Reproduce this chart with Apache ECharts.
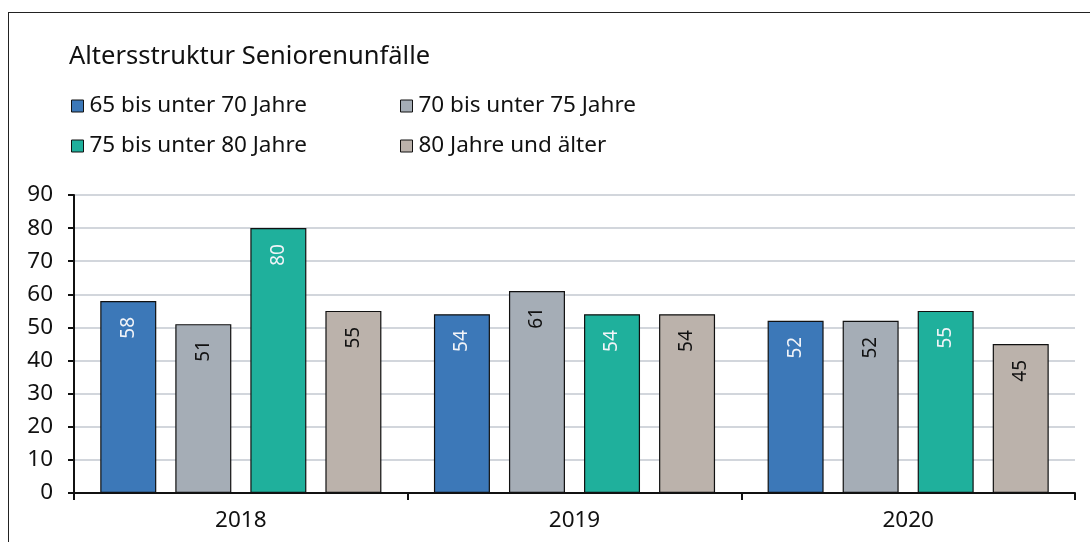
<!DOCTYPE html>
<html>
<head>
<meta charset="utf-8">
<script src="https://cdn.jsdelivr.net/npm/echarts@6/dist/echarts.min.js"></script>
<style>
  html, body { margin: 0; padding: 0; background: #fff; }
  #frame { position: absolute; left: 8px; top: 12px; width: 1100px; height: 560px;
           border-left: 1.5px solid #222; border-top: 1.5px solid #222; }
  #my-echart { position: absolute; left: 0; top: 0; width: 1090px; height: 542px; }
</style>
</head>
<body>
<div id="frame"></div>
<div id="my-echart"></div>
<script>
// Daten
const years = ['2018', '2019', '2020'];
const seriesNames = ['65 bis unter 70 Jahre', '70 bis unter 75 Jahre', '75 bis unter 80 Jahre', '80 Jahre und älter'];
const age65 = [58, 54, 52];
const age70 = [51, 61, 52];
const age75 = [80, 54, 55];
const age80 = [55, 54, 45];
const yTicks = [0, 10, 20, 30, 40, 50, 60, 70, 80, 90];

const colors = ['#3c78b8', '#a5adb6', '#1fb09c', '#bbb2ab'];
const labelColors = ['#f2f4f8', '#111', '#f2f4f8', '#111'];
const font = '"Noto Sans", Lato, sans-serif';

const makeSeries = function (name, data, i) {
    return {
        name: name,
        type: 'bar',
        barWidth: 56,
        barGap: '34%',
        data: data,
        itemStyle: { color: colors[i], borderColor: '#111', borderWidth: 1.2 },
        label: {
            show: true,
            position: 'insideTop',
            distance: 16,
            rotate: 90,
            align: 'right',
            verticalAlign: 'middle',
            color: labelColors[i],
            fontFamily: font,
            fontSize: 19
        }
    };
};

const legendBase = {
    orient: 'vertical',
    itemWidth: 12,
    itemHeight: 12,
    itemGap: 16,
    icon: 'rect',
    textStyle: { fontFamily: font, fontSize: 22.5, lineHeight: 24, color: '#111', padding: [0, 0, 0, 1] },
    itemStyle: { borderColor: '#111', borderWidth: 1 }
};

const option = {
    animation: false,
    title: {
        text: 'Altersstruktur Seniorenunfälle',
        left: 64,
        top: 39,
        textStyle: { fontFamily: font, fontSize: 25.5, fontWeight: 'normal', color: '#111' }
    },
    legend: [
        Object.assign({}, legendBase, { left: 66, top: 89, data: [seriesNames[0], seriesNames[2]] }),
        Object.assign({}, legendBase, { left: 395, top: 89, data: [seriesNames[1], seriesNames[3]] })
    ],
    grid: { left: 74, right: 15, top: 195, bottom: 49 },
    xAxis: {
        type: 'category',
        data: years,
        axisLine: { lineStyle: { color: '#111', width: 2 } },
        axisTick: { show: true, length: 7, lineStyle: { color: '#111', width: 2 } },
        axisLabel: { fontFamily: font, fontSize: 22.5, color: '#111', margin: 16 }
    },
    yAxis: {
        type: 'value',
        min: yTicks[0],
        max: yTicks[yTicks.length - 1],
        interval: 10,
        axisLine: { show: true, lineStyle: { color: '#111', width: 2 } },
        axisTick: { show: true, length: 6, lineStyle: { color: '#111', width: 2 } },
        axisLabel: { fontFamily: font, fontSize: 22.5, color: '#111', margin: 21 },
        splitLine: { lineStyle: { color: '#c3c8d0', width: 1.5 } }
    },
    series: [
        makeSeries(seriesNames[0], age65, 0),
        makeSeries(seriesNames[1], age70, 1),
        makeSeries(seriesNames[2], age75, 2),
        makeSeries(seriesNames[3], age80, 3)
    ]
};

const echartDom = echarts.init(document.getElementById('my-echart'));
echartDom.setOption(option);
</script>
</body>
</html>
